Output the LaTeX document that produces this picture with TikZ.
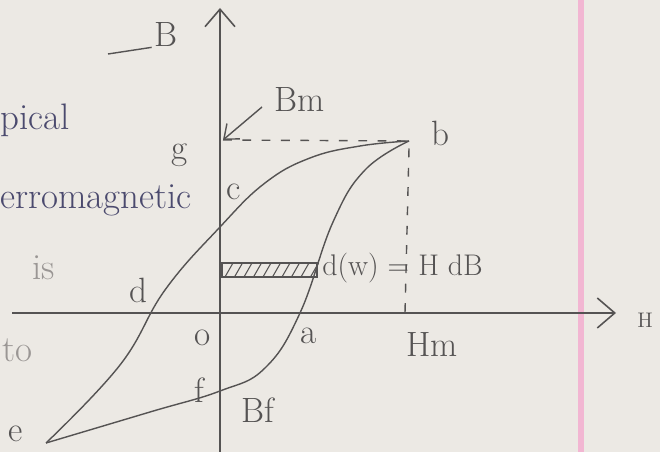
\documentclass[tikz,border=0pt]{standalone}
\usepackage{tikz}
\usetikzlibrary{arrows.meta}
\definecolor{paper}{HTML}{ECE9E4}
\definecolor{pencil}{HTML}{555353}
\definecolor{inkpurple}{HTML}{4B4A6E}
\definecolor{faint}{HTML}{9A9694}
\definecolor{marginpink}{HTML}{F2B6D2}

\begin{document}
\begin{tikzpicture}[x=0.02cm, y=-0.02cm,
    curve/.style={draw=pencil, line width=0.8pt},
    axisline/.style={draw=pencil, line width=0.9pt, -{Straight Barb[length=3.5mm,width=6mm]}},
    guide/.style={draw=pencil, line width=0.8pt, dash pattern=on 5pt off 6pt},
    lbl/.style={text=pencil, font=\fontsize{20}{22}\selectfont, inner sep=0pt},
    note/.style={text=inkpurple, font=\fontsize{21}{24}\selectfont, inner sep=0pt, anchor=west},
  ]
  % paper and margin
  \useasboundingbox (0,0) rectangle (660,452);
  \fill[paper] (0,0) rectangle (660,452);
  \clip (0,0) rectangle (660,452);
  \draw[marginpink, line width=3pt] (581,0) -- (581,452);

  % points of the loop
  \coordinate (O) at (220,313);
  \coordinate (b) at (409,141);
  \coordinate (e) at (46,443);
  \coordinate (g) at (223,140);
  \coordinate (Hmax) at (405,313);
  \coordinate (ytop) at (220,8);
  \coordinate (ybot) at (220,452);
  \coordinate (xl) at (12,313);
  \coordinate (xr) at (616,313);

  % axes
  \draw[axisline] (ybot) -- (ytop);
  \draw[axisline] (xl) -- (xr);

  % dashed guides to Bm and Hm
  \draw[guide] (g) -- (b);
  \draw[guide] ([yshift=-0.15cm]b) -- (Hmax);

  % hysteresis loop
  \draw[curve] plot[smooth, tension=0.7] coordinates {(b) (360,146) (310,158) (265,183) (220,227) (165,290) (120,365) (e)};
  \draw[curve] plot[smooth, tension=0.7] coordinates {(e) (150,412) (220,391) (265,368) (300,313) (333,222) (365,170) (b)};

  % strip H dB
  \draw[curve] (222,263) rectangle (317,277);
  \foreach \i in {0,...,9}
    \draw[pencil, line width=0.6pt] (225+\i*9.5,277) -- (233+\i*9.5,263);

  % labels
  \node[lbl] (lB) at (166,35) {B};
  \coordinate (bline) at (108,54);
  \draw[curve] (bline) -- ([xshift=-0.05cm]lB.south west);
  \node[lbl] (lBm) at (300,100) {Bm};
  \coordinate (bmtail) at (262,107);
  \draw[curve, -{Straight Barb[length=2.5mm,width=4mm]}] (bmtail) -- (g);
  \node[lbl] (lg) at (180,155) {g};
  \node[lbl] (lb) at (440,133) {b};
  \node[lbl] (lc) at (234,192) {c};
  \node[lbl] (ld) at (138,290) {d};
  \node[lbl] (lo) at (203,338) {o};
  \node[lbl] (la) at (309,336) {a};
  \node[lbl] (lHm) at (432,345) {Hm};
  \node[lbl, font=\fontsize{12}{14}\selectfont] (lH) at (645,320) {H};
  \node[lbl] (lf) at (199,390) {f};
  \node[lbl] (lBf) at (258,410) {Bf};
  \node[lbl] (le) at (16,434) {e};
  \node[lbl, anchor=west, font=\fontsize{17}{20}\selectfont] (ldw) at (322,268) {d(w) = H dB};

  % notebook text at the left edge
  \node[note] (npical) at (0,120) {pical};
  \node[note] (nferro) at (0,200) {erromagnetic};
  \node[note, text=faint] (nis) at (32,268) {is};
  \node[note, text=faint] (nto) at (2,350) {to};
\end{tikzpicture}
\end{document}
